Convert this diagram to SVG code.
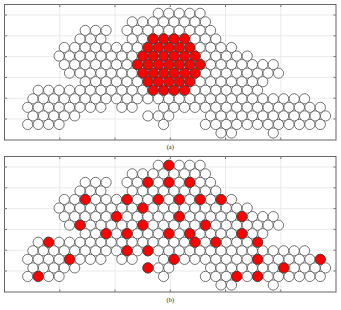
<svg xmlns="http://www.w3.org/2000/svg" xmlns:xlink="http://www.w3.org/1999/xlink" width="341" height="310" viewBox="0 0 341 310">
<style>
.frame{fill:none;stroke:#666;stroke-width:1}
.grid{stroke:#e2e6e6;stroke-width:0.8}
.tick{stroke:#555;stroke-width:0.8}
.lbl{font-family:"Liberation Serif",serif;font-size:6.5px;fill:#222;text-anchor:middle}
.red{fill:#ff0000;stroke:#3a3a3a;stroke-width:0.7}
</style>
<defs>
<circle id="o" r="5.1" fill="#fff" stroke="#3a3a3a" stroke-width="0.7"/>
<circle id="r" r="5.1" class="red"/>
<g id="axes">
<rect class="frame" x="4.5" y="4.5" width="331.5" height="135.5" fill="#fff"/>
<g class="grid">
<line x1="59.8" y1="4.5" x2="59.8" y2="140"/><line x1="115" y1="4.5" x2="115" y2="140"/><line x1="170.3" y1="4.5" x2="170.3" y2="140"/><line x1="225.5" y1="4.5" x2="225.5" y2="140"/><line x1="280.8" y1="4.5" x2="280.8" y2="140"/>
<line x1="4.5" y1="15" x2="336" y2="15"/><line x1="4.5" y1="35.8" x2="336" y2="35.8"/><line x1="4.5" y1="56.6" x2="336" y2="56.6"/><line x1="4.5" y1="77.4" x2="336" y2="77.4"/><line x1="4.5" y1="98.2" x2="336" y2="98.2"/><line x1="4.5" y1="119" x2="336" y2="119"/>
</g>
<g class="tick">
<line x1="59.8" y1="4.5" x2="59.8" y2="7"/><line x1="115" y1="4.5" x2="115" y2="7"/><line x1="170.3" y1="4.5" x2="170.3" y2="7"/><line x1="225.5" y1="4.5" x2="225.5" y2="7"/><line x1="280.8" y1="4.5" x2="280.8" y2="7"/>
<line x1="59.8" y1="140" x2="59.8" y2="137.5"/><line x1="115" y1="140" x2="115" y2="137.5"/><line x1="170.3" y1="140" x2="170.3" y2="137.5"/><line x1="225.5" y1="140" x2="225.5" y2="137.5"/><line x1="280.8" y1="140" x2="280.8" y2="137.5"/>
<line x1="4.5" y1="15" x2="7" y2="15"/><line x1="4.5" y1="35.8" x2="7" y2="35.8"/><line x1="4.5" y1="56.6" x2="7" y2="56.6"/><line x1="4.5" y1="77.4" x2="7" y2="77.4"/><line x1="4.5" y1="98.2" x2="7" y2="98.2"/><line x1="4.5" y1="119" x2="7" y2="119"/>
<line x1="336" y1="15" x2="333.5" y2="15"/><line x1="336" y1="35.8" x2="333.5" y2="35.8"/><line x1="336" y1="56.6" x2="333.5" y2="56.6"/><line x1="336" y1="77.4" x2="333.5" y2="77.4"/><line x1="336" y1="98.2" x2="333.5" y2="98.2"/><line x1="336" y1="119" x2="333.5" y2="119"/>
</g>
</g>
<g id="lattice">
<g transform="translate(0,13.3)"><use href="#o" x="158.3"/><use href="#o" x="168.8"/><use href="#o" x="179.2"/><use href="#o" x="189.7"/><use href="#o" x="200.1"/></g>
<g transform="translate(0,21.85)"><use href="#o" x="132.2"/><use href="#o" x="142.7"/><use href="#o" x="153.1"/><use href="#o" x="163.6"/><use href="#o" x="174"/><use href="#o" x="184.5"/><use href="#o" x="194.9"/><use href="#o" x="205.4"/></g>
<g transform="translate(0,30.4)"><use href="#o" x="85.2"/><use href="#o" x="95.6"/><use href="#o" x="106.1"/><use href="#o" x="127"/><use href="#o" x="137.4"/><use href="#o" x="147.9"/><use href="#o" x="158.3"/><use href="#o" x="168.8"/><use href="#o" x="179.2"/><use href="#o" x="189.7"/><use href="#o" x="200.1"/><use href="#o" x="210.6"/></g>
<g transform="translate(0,38.95)"><use href="#o" x="80"/><use href="#o" x="90.4"/><use href="#o" x="100.9"/><use href="#o" x="132.2"/><use href="#o" x="142.7"/><use href="#o" x="153.1"/><use href="#o" x="163.6"/><use href="#o" x="174"/><use href="#o" x="184.5"/><use href="#o" x="194.9"/><use href="#o" x="205.4"/><use href="#o" x="215.8"/></g>
<g transform="translate(0,47.5)"><use href="#o" x="64.3"/><use href="#o" x="74.7"/><use href="#o" x="85.2"/><use href="#o" x="95.6"/><use href="#o" x="106.1"/><use href="#o" x="116.5"/><use href="#o" x="127"/><use href="#o" x="137.4"/><use href="#o" x="147.9"/><use href="#o" x="158.3"/><use href="#o" x="168.8"/><use href="#o" x="179.2"/><use href="#o" x="189.7"/><use href="#o" x="200.1"/><use href="#o" x="210.6"/><use href="#o" x="221"/><use href="#o" x="231.5"/></g>
<g transform="translate(0,56.05)"><use href="#o" x="59.1"/><use href="#o" x="69.5"/><use href="#o" x="80"/><use href="#o" x="90.4"/><use href="#o" x="100.9"/><use href="#o" x="111.3"/><use href="#o" x="121.8"/><use href="#o" x="132.2"/><use href="#o" x="142.7"/><use href="#o" x="153.1"/><use href="#o" x="163.6"/><use href="#o" x="174"/><use href="#o" x="184.5"/><use href="#o" x="194.9"/><use href="#o" x="205.4"/><use href="#o" x="215.8"/><use href="#o" x="226.3"/><use href="#o" x="236.7"/><use href="#o" x="247.2"/></g>
<g transform="translate(0,64.6)"><use href="#o" x="64.3"/><use href="#o" x="74.7"/><use href="#o" x="85.2"/><use href="#o" x="95.6"/><use href="#o" x="106.1"/><use href="#o" x="116.5"/><use href="#o" x="127"/><use href="#o" x="137.4"/><use href="#o" x="147.9"/><use href="#o" x="158.3"/><use href="#o" x="168.8"/><use href="#o" x="179.2"/><use href="#o" x="189.7"/><use href="#o" x="200.1"/><use href="#o" x="210.6"/><use href="#o" x="221"/><use href="#o" x="231.5"/><use href="#o" x="241.9"/><use href="#o" x="252.4"/><use href="#o" x="262.8"/><use href="#o" x="273.3"/></g>
<g transform="translate(0,73.15)"><use href="#o" x="69.5"/><use href="#o" x="80"/><use href="#o" x="90.4"/><use href="#o" x="100.9"/><use href="#o" x="111.3"/><use href="#o" x="121.8"/><use href="#o" x="132.2"/><use href="#o" x="142.7"/><use href="#o" x="153.1"/><use href="#o" x="163.6"/><use href="#o" x="174"/><use href="#o" x="184.5"/><use href="#o" x="194.9"/><use href="#o" x="205.4"/><use href="#o" x="215.8"/><use href="#o" x="226.3"/><use href="#o" x="236.7"/><use href="#o" x="247.2"/><use href="#o" x="257.6"/><use href="#o" x="268.1"/><use href="#o" x="278.5"/></g>
<g transform="translate(0,81.7)"><use href="#o" x="85.2"/><use href="#o" x="95.6"/><use href="#o" x="106.1"/><use href="#o" x="116.5"/><use href="#o" x="127"/><use href="#o" x="137.4"/><use href="#o" x="147.9"/><use href="#o" x="158.3"/><use href="#o" x="168.8"/><use href="#o" x="179.2"/><use href="#o" x="189.7"/><use href="#o" x="200.1"/><use href="#o" x="210.6"/><use href="#o" x="221"/><use href="#o" x="231.5"/><use href="#o" x="241.9"/><use href="#o" x="252.4"/><use href="#o" x="262.8"/></g>
<g transform="translate(0,90.25)"><use href="#o" x="38.2"/><use href="#o" x="48.6"/><use href="#o" x="59.1"/><use href="#o" x="69.5"/><use href="#o" x="80"/><use href="#o" x="90.4"/><use href="#o" x="100.9"/><use href="#o" x="111.3"/><use href="#o" x="121.8"/><use href="#o" x="132.2"/><use href="#o" x="142.7"/><use href="#o" x="153.1"/><use href="#o" x="163.6"/><use href="#o" x="174"/><use href="#o" x="184.5"/><use href="#o" x="194.9"/><use href="#o" x="205.4"/><use href="#o" x="215.8"/><use href="#o" x="226.3"/><use href="#o" x="236.7"/><use href="#o" x="247.2"/><use href="#o" x="257.6"/></g>
<g transform="translate(0,98.8)"><use href="#o" x="32.9"/><use href="#o" x="43.4"/><use href="#o" x="53.8"/><use href="#o" x="64.3"/><use href="#o" x="74.7"/><use href="#o" x="85.2"/><use href="#o" x="95.6"/><use href="#o" x="106.1"/><use href="#o" x="116.5"/><use href="#o" x="127"/><use href="#o" x="137.4"/><use href="#o" x="147.9"/><use href="#o" x="158.3"/><use href="#o" x="168.8"/><use href="#o" x="179.2"/><use href="#o" x="189.7"/><use href="#o" x="200.1"/><use href="#o" x="210.6"/><use href="#o" x="221"/><use href="#o" x="231.5"/><use href="#o" x="241.9"/><use href="#o" x="252.4"/><use href="#o" x="262.8"/><use href="#o" x="273.3"/><use href="#o" x="283.7"/><use href="#o" x="294.2"/><use href="#o" x="304.6"/></g>
<g transform="translate(0,107.35)"><use href="#o" x="27.7"/><use href="#o" x="38.2"/><use href="#o" x="48.6"/><use href="#o" x="59.1"/><use href="#o" x="69.5"/><use href="#o" x="80"/><use href="#o" x="90.4"/><use href="#o" x="100.9"/><use href="#o" x="121.8"/><use href="#o" x="132.2"/><use href="#o" x="163.6"/><use href="#o" x="174"/><use href="#o" x="184.5"/><use href="#o" x="194.9"/><use href="#o" x="205.4"/><use href="#o" x="215.8"/><use href="#o" x="226.3"/><use href="#o" x="236.7"/><use href="#o" x="247.2"/><use href="#o" x="257.6"/><use href="#o" x="268.1"/><use href="#o" x="278.5"/><use href="#o" x="289"/><use href="#o" x="299.4"/><use href="#o" x="309.9"/><use href="#o" x="320.3"/></g>
<g transform="translate(0,115.9)"><use href="#o" x="32.9"/><use href="#o" x="43.4"/><use href="#o" x="53.8"/><use href="#o" x="64.3"/><use href="#o" x="74.7"/><use href="#o" x="147.9"/><use href="#o" x="158.3"/><use href="#o" x="168.8"/><use href="#o" x="210.6"/><use href="#o" x="221"/><use href="#o" x="231.5"/><use href="#o" x="241.9"/><use href="#o" x="252.4"/><use href="#o" x="262.8"/><use href="#o" x="273.3"/><use href="#o" x="283.7"/><use href="#o" x="294.2"/><use href="#o" x="304.6"/><use href="#o" x="315.1"/><use href="#o" x="325.5"/></g>
<g transform="translate(0,124.45)"><use href="#o" x="27.7"/><use href="#o" x="38.2"/><use href="#o" x="48.6"/><use href="#o" x="59.1"/><use href="#o" x="163.6"/><use href="#o" x="205.4"/><use href="#o" x="215.8"/><use href="#o" x="226.3"/><use href="#o" x="236.7"/><use href="#o" x="247.2"/><use href="#o" x="257.6"/><use href="#o" x="268.1"/><use href="#o" x="278.5"/><use href="#o" x="289"/><use href="#o" x="299.4"/><use href="#o" x="309.9"/><use href="#o" x="320.3"/></g>
<g transform="translate(0,133)"><use href="#o" x="221"/><use href="#o" x="231.5"/><use href="#o" x="273.3"/></g>
</g>
</defs>
<g id="panel-a">
<use href="#axes"/>
<use href="#lattice"/>
<g id="reds-a">
<g transform="translate(0,38.95)"><use href="#r" x="153.1"/><use href="#r" x="163.6"/><use href="#r" x="174"/><use href="#r" x="184.5"/></g>
<g transform="translate(0,47.5)"><use href="#r" x="147.9"/><use href="#r" x="158.3"/><use href="#r" x="168.8"/><use href="#r" x="179.2"/><use href="#r" x="189.7"/></g>
<g transform="translate(0,56.05)"><use href="#r" x="142.7"/><use href="#r" x="153.1"/><use href="#r" x="163.6"/><use href="#r" x="174"/><use href="#r" x="184.5"/><use href="#r" x="194.9"/></g>
<g transform="translate(0,64.6)"><use href="#r" x="137.4"/><use href="#r" x="147.9"/><use href="#r" x="158.3"/><use href="#r" x="168.8"/><use href="#r" x="179.2"/><use href="#r" x="189.7"/><use href="#r" x="200.1"/></g>
<g transform="translate(0,73.15)"><use href="#r" x="142.7"/><use href="#r" x="153.1"/><use href="#r" x="163.6"/><use href="#r" x="174"/><use href="#r" x="184.5"/><use href="#r" x="194.9"/></g>
<g transform="translate(0,81.7)"><use href="#r" x="147.9"/><use href="#r" x="158.3"/><use href="#r" x="168.8"/><use href="#r" x="179.2"/><use href="#r" x="189.7"/></g>
<g transform="translate(0,90.25)"><use href="#r" x="153.1"/><use href="#r" x="163.6"/><use href="#r" x="174"/><use href="#r" x="184.5"/></g>
</g>
<text class="lbl" x="170.3" y="149">(a)</text>
</g>
<g id="panel-b">
<use href="#axes" y="152"/>
<use href="#lattice" y="152"/>
<g id="reds-b" transform="translate(0,152)">
<use href="#r" x="168.8" y="13.3"/>
<use href="#r" x="147.9" y="30.4"/><use href="#r" x="168.8" y="30.4"/><use href="#r" x="189.7" y="30.4"/>
<use href="#r" x="85.2" y="47.5"/><use href="#r" x="127" y="47.5"/><use href="#r" x="158.3" y="47.5"/><use href="#r" x="179.2" y="47.5"/><use href="#r" x="200.1" y="47.5"/><use href="#r" x="221" y="47.5"/>
<use href="#r" x="142.7" y="56.05"/>
<use href="#r" x="116.5" y="64.6"/><use href="#r" x="179.2" y="64.6"/><use href="#r" x="241.9" y="64.6"/>
<use href="#r" x="80" y="73.15"/><use href="#r" x="142.7" y="73.15"/><use href="#r" x="205.4" y="73.15"/>
<use href="#r" x="106.1" y="81.7"/><use href="#r" x="127" y="81.7"/><use href="#r" x="168.8" y="81.7"/><use href="#r" x="189.7" y="81.7"/><use href="#r" x="241.9" y="81.7"/>
<use href="#r" x="48.6" y="90.25"/><use href="#r" x="194.9" y="90.25"/><use href="#r" x="215.8" y="90.25"/><use href="#r" x="257.6" y="90.25"/>
<use href="#r" x="127" y="98.8"/><use href="#r" x="147.9" y="98.8"/>
<use href="#r" x="69.5" y="107.35"/><use href="#r" x="174" y="107.35"/><use href="#r" x="257.6" y="107.35"/><use href="#r" x="320.3" y="107.35"/>
<use href="#r" x="147.9" y="115.9"/><use href="#r" x="283.7" y="115.9"/>
<use href="#r" x="38.2" y="124.45"/><use href="#r" x="236.7" y="124.45"/><use href="#r" x="257.6" y="124.45"/>
</g>
<text class="lbl" x="170.3" y="302">(b)</text>
</g>
</svg>
